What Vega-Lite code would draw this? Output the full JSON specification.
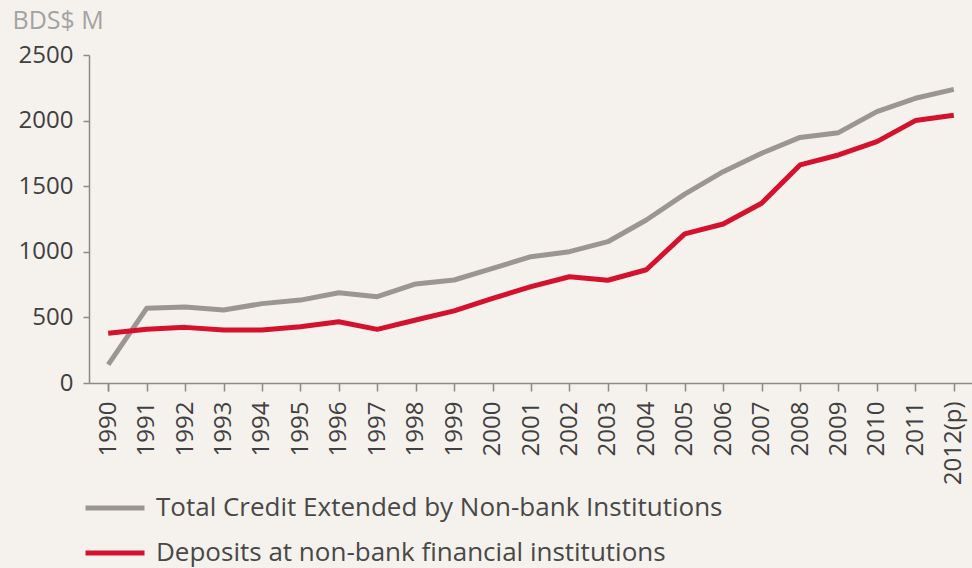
{
  "$schema": "https://vega.github.io/schema/vega-lite/v6.json",
  "width": 884,
  "height": 328,
  "autosize": {"type": "none"},
  "padding": {"left": 89, "top": 55, "right": 0, "bottom": 185},
  "background": "#f5f2ed",
  "config": {
    "view": {"stroke": null},
    "font": "Open Sans"
  },
  "data": {
    "values": [
      {"year": "1990", "series": "Total Credit Extended by Non-bank Institutions", "value": 140},
      {"year": "1991", "series": "Total Credit Extended by Non-bank Institutions", "value": 569},
      {"year": "1992", "series": "Total Credit Extended by Non-bank Institutions", "value": 580},
      {"year": "1993", "series": "Total Credit Extended by Non-bank Institutions", "value": 556},
      {"year": "1994", "series": "Total Credit Extended by Non-bank Institutions", "value": 605},
      {"year": "1995", "series": "Total Credit Extended by Non-bank Institutions", "value": 632},
      {"year": "1996", "series": "Total Credit Extended by Non-bank Institutions", "value": 688},
      {"year": "1997", "series": "Total Credit Extended by Non-bank Institutions", "value": 658},
      {"year": "1998", "series": "Total Credit Extended by Non-bank Institutions", "value": 755},
      {"year": "1999", "series": "Total Credit Extended by Non-bank Institutions", "value": 785},
      {"year": "2000", "series": "Total Credit Extended by Non-bank Institutions", "value": 874},
      {"year": "2001", "series": "Total Credit Extended by Non-bank Institutions", "value": 963},
      {"year": "2002", "series": "Total Credit Extended by Non-bank Institutions", "value": 1001},
      {"year": "2003", "series": "Total Credit Extended by Non-bank Institutions", "value": 1077},
      {"year": "2004", "series": "Total Credit Extended by Non-bank Institutions", "value": 1242},
      {"year": "2005", "series": "Total Credit Extended by Non-bank Institutions", "value": 1440},
      {"year": "2006", "series": "Total Credit Extended by Non-bank Institutions", "value": 1611},
      {"year": "2007", "series": "Total Credit Extended by Non-bank Institutions", "value": 1751},
      {"year": "2008", "series": "Total Credit Extended by Non-bank Institutions", "value": 1872},
      {"year": "2009", "series": "Total Credit Extended by Non-bank Institutions", "value": 1908},
      {"year": "2010", "series": "Total Credit Extended by Non-bank Institutions", "value": 2068},
      {"year": "2011", "series": "Total Credit Extended by Non-bank Institutions", "value": 2170},
      {"year": "2012(p)", "series": "Total Credit Extended by Non-bank Institutions", "value": 2238},
      {"year": "1990", "series": "Deposits at non-bank financial institutions", "value": 379},
      {"year": "1991", "series": "Deposits at non-bank financial institutions", "value": 409},
      {"year": "1992", "series": "Deposits at non-bank financial institutions", "value": 424},
      {"year": "1993", "series": "Deposits at non-bank financial institutions", "value": 404},
      {"year": "1994", "series": "Deposits at non-bank financial institutions", "value": 404},
      {"year": "1995", "series": "Deposits at non-bank financial institutions", "value": 429},
      {"year": "1996", "series": "Deposits at non-bank financial institutions", "value": 467},
      {"year": "1997", "series": "Deposits at non-bank financial institutions", "value": 409},
      {"year": "1998", "series": "Deposits at non-bank financial institutions", "value": 480},
      {"year": "1999", "series": "Deposits at non-bank financial institutions", "value": 550},
      {"year": "2000", "series": "Deposits at non-bank financial institutions", "value": 645},
      {"year": "2001", "series": "Deposits at non-bank financial institutions", "value": 734},
      {"year": "2002", "series": "Deposits at non-bank financial institutions", "value": 810},
      {"year": "2003", "series": "Deposits at non-bank financial institutions", "value": 783},
      {"year": "2004", "series": "Deposits at non-bank financial institutions", "value": 863},
      {"year": "2005", "series": "Deposits at non-bank financial institutions", "value": 1137},
      {"year": "2006", "series": "Deposits at non-bank financial institutions", "value": 1212},
      {"year": "2007", "series": "Deposits at non-bank financial institutions", "value": 1370},
      {"year": "2008", "series": "Deposits at non-bank financial institutions", "value": 1662},
      {"year": "2009", "series": "Deposits at non-bank financial institutions", "value": 1738},
      {"year": "2010", "series": "Deposits at non-bank financial institutions", "value": 1840},
      {"year": "2011", "series": "Deposits at non-bank financial institutions", "value": 2000},
      {"year": "2012(p)", "series": "Deposits at non-bank financial institutions", "value": 2040}
    ]
  },
  "mark": {"type": "line", "strokeWidth": 5, "strokeJoin": "round"},
  "encoding": {
    "x": {
      "field": "year",
      "type": "ordinal",
      "scale": {"type": "point", "padding": 0.5},
      "axis": {
        "title": null,
        "labelAngle": -90,
        "labelFontSize": 24,
        "labelColor": "#404040",
        "labelPadding": 10,
        "domainColor": "#8a8a8a",
        "domainWidth": 1.5,
        "tickColor": "#8a8a8a",
        "tickWidth": 1.5,
        "tickSize": 8,
        "tickBand": "extent"
      }
    },
    "y": {
      "field": "value",
      "type": "quantitative",
      "scale": {"domain": [0, 2500], "nice": false},
      "axis": {
        "values": [0, 500, 1000, 1500, 2000, 2500],
        "format": "d",
        "grid": false,
        "title": "BDS$ M",
        "titleAngle": 0,
        "titleX": -77,
        "titleY": -35,
        "titleAlign": "left",
        "titleBaseline": "middle",
        "titleFontSize": 25,
        "titleFontWeight": "normal",
        "titleColor": "#a3a3a3",
        "labelFontSize": 24,
        "labelColor": "#404040",
        "labelPadding": 10,
        "domainColor": "#8a8a8a",
        "domainWidth": 1.5,
        "tickColor": "#8a8a8a",
        "tickWidth": 1.5,
        "tickSize": 6
      }
    },
    "color": {
      "field": "series",
      "type": "nominal",
      "scale": {
        "domain": ["Total Credit Extended by Non-bank Institutions", "Deposits at non-bank financial institutions"],
        "range": ["#9b9694", "#d5122e"]
      },
      "legend": {
        "title": null,
        "orient": "none",
        "legendX": -6,
        "legendY": 421,
        "symbolType": "stroke",
        "symbolSize": 3481,
        "symbolStrokeWidth": 5,
        "labelFontSize": 26,
        "labelColor": "#484848",
        "labelOffset": 9,
        "rowPadding": -23,
        "labelLimit": 900
      }
    }
  }
}
